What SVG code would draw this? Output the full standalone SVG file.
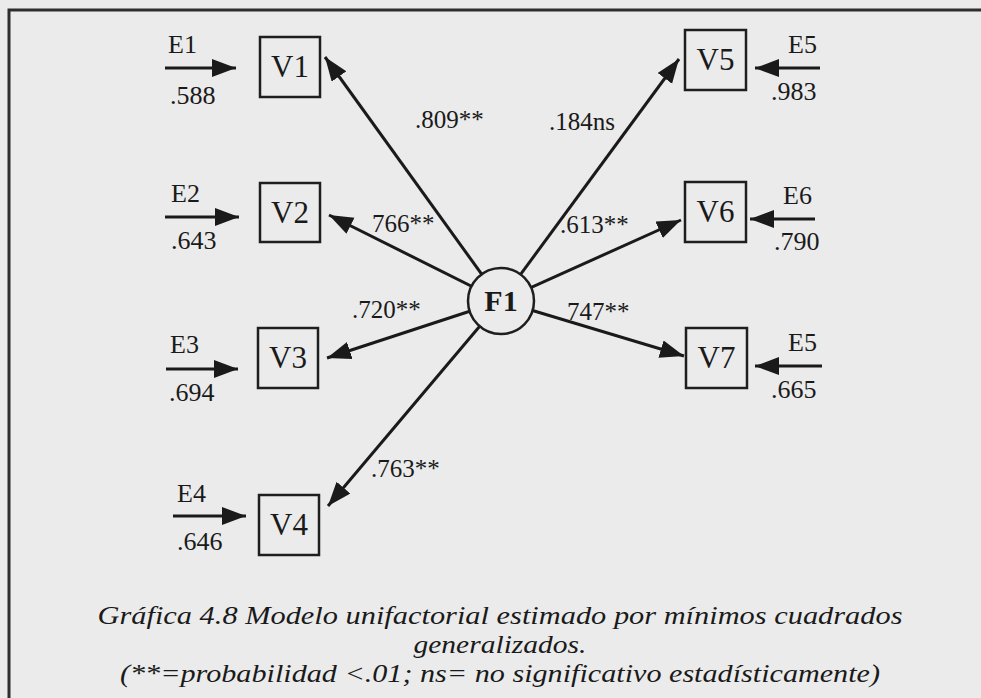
<svg xmlns="http://www.w3.org/2000/svg" width="981" height="698" viewBox="0 0 981 698">
  <style>
    .frame { fill: none; stroke: #2e2e2e; stroke-width: 3; }
    .box { fill: none; stroke: #1e1e1e; stroke-width: 2.5; }
    .factor { fill: #ebebeb; stroke: #1e1e1e; stroke-width: 2.5; }
    .edge { stroke: #1a1a1a; stroke-width: 3; fill: none; marker-end: url(#head); }
    .t { font-family: "Liberation Serif", "Times New Roman", serif; fill: #1a1a1a; }
    .vname { font-size: 31px; text-anchor: middle; }
    .fname { font-size: 30px; font-weight: bold; text-anchor: middle; }
    .err { font-size: 26px; }
    .load { font-size: 25px; }
    .cap { font-size: 26px; font-style: italic; text-anchor: middle; }
  </style>
  <defs>
    <marker id="head" markerUnits="userSpaceOnUse" markerWidth="26" markerHeight="20" refX="24" refY="9" orient="auto">
      <path d="M0,0 L24,9 L0,18 z" fill="#1a1a1a"/>
    </marker>
  </defs>

  <rect width="981" height="698" fill="#ebebeb"/>
  <rect class="frame" x="9" y="10" width="1000" height="720"/>

  <!-- factor loadings and error terms -->
  <g id="connectors">
    <line class="edge" x1="501" y1="301" x2="325" y2="57"/>
    <line class="edge" x1="501" y1="301" x2="329" y2="215"/>
    <line class="edge" x1="501" y1="301" x2="327" y2="358"/>
    <line class="edge" x1="501" y1="301" x2="328" y2="506"/>
    <line class="edge" x1="501" y1="301" x2="679" y2="59"/>
    <line class="edge" x1="501" y1="301" x2="681" y2="220"/>
    <line class="edge" x1="501" y1="301" x2="684" y2="356"/>

    <line class="edge" x1="165" y1="68" x2="236" y2="68"/>
    <line class="edge" x1="165" y1="217" x2="239" y2="217"/>
    <line class="edge" x1="166" y1="369" x2="238" y2="369"/>
    <line class="edge" x1="173" y1="516" x2="246" y2="516"/>
    <line class="edge" x1="820" y1="68" x2="755" y2="68"/>
    <line class="edge" x1="815" y1="219" x2="750" y2="219"/>
    <line class="edge" x1="822" y1="366" x2="755" y2="366"/>

    <text class="t load" x="415" y="128">.809**</text>
    <text class="t load" x="372" y="232">766**</text>
    <text class="t load" x="352" y="318">.720**</text>
    <text class="t load" x="371" y="477">.763**</text>
    <text class="t load" x="549" y="130">.184ns</text>
    <text class="t load" x="560" y="233">.613**</text>
    <text class="t load" x="567" y="320">747**</text>
  </g>

  <g id="F1">
    <circle class="factor" cx="501" cy="301" r="33"/>
    <text class="t fname" x="501" y="311">F1</text>
  </g>

  <g id="V1">
    <rect class="box" x="260" y="37" width="60" height="60"/>
    <text class="t vname" x="290" y="77">V1</text>
  </g>
  <g id="V2">
    <rect class="box" x="260" y="183" width="60" height="59"/>
    <text class="t vname" x="290" y="223">V2</text>
  </g>
  <g id="V3">
    <rect class="box" x="258" y="328" width="60" height="60"/>
    <text class="t vname" x="288" y="368">V3</text>
  </g>
  <g id="V4">
    <rect class="box" x="259" y="495" width="60" height="60"/>
    <text class="t vname" x="289" y="535">V4</text>
  </g>
  <g id="V5">
    <rect class="box" x="685" y="30" width="61" height="60"/>
    <text class="t vname" x="715.5" y="70">V5</text>
  </g>
  <g id="V6">
    <rect class="box" x="685" y="182" width="61" height="60"/>
    <text class="t vname" x="715.5" y="222">V6</text>
  </g>
  <g id="V7">
    <rect class="box" x="686" y="328" width="61" height="60"/>
    <text class="t vname" x="716.5" y="368">V7</text>
  </g>

  <g id="E1">
    <text class="t err" x="168" y="53">E1</text>
    <text class="t err" x="170" y="104">.588</text>
  </g>
  <g id="E2">
    <text class="t err" x="171" y="202">E2</text>
    <text class="t err" x="171" y="249">.643</text>
  </g>
  <g id="E3">
    <text class="t err" x="170" y="353">E3</text>
    <text class="t err" x="169" y="401">.694</text>
  </g>
  <g id="E4">
    <text class="t err" x="177" y="502">E4</text>
    <text class="t err" x="177" y="550">.646</text>
  </g>
  <g id="E5">
    <text class="t err" x="788" y="53">E5</text>
    <text class="t err" x="771" y="100">.983</text>
  </g>
  <g id="E6">
    <text class="t err" x="783" y="204">E6</text>
    <text class="t err" x="774" y="250">.790</text>
  </g>
  <g id="E7">
    <text class="t err" x="788" y="351">E5</text>
    <text class="t err" x="771" y="398">.665</text>
  </g>

  <g id="caption">
    <text class="t cap" x="500" y="624" textLength="805" lengthAdjust="spacingAndGlyphs">Gráfica 4.8 Modelo unifactorial estimado por mínimos cuadrados</text>
    <text class="t cap" x="500" y="653" textLength="173" lengthAdjust="spacingAndGlyphs">generalizados.</text>
    <text class="t cap" x="500" y="682" textLength="760" lengthAdjust="spacingAndGlyphs">(**=probabilidad &lt;.01; ns= no significativo estadísticamente)</text>
  </g>
</svg>
